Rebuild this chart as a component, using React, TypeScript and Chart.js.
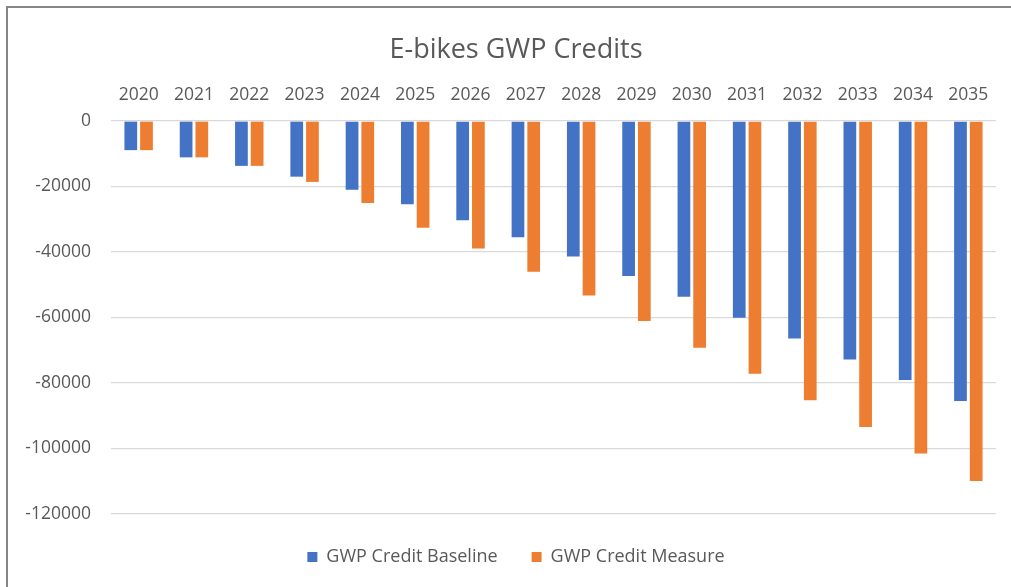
import React, { useEffect, useRef } from "react";
import { Chart, registerables } from "chart.js";

Chart.register(...registerables);

const years = ["2020","2021","2022","2023","2024","2025","2026","2027","2028","2029","2030","2031","2032","2033","2034","2035"];
const baseline = [-8900,-11100,-13700,-17000,-21000,-25400,-30300,-35500,-41400,-47300,-53700,-60100,-66400,-72800,-79100,-85500];
const measure = [-8900,-11100,-13700,-18600,-25000,-32600,-38900,-46000,-53300,-61100,-69200,-77200,-85300,-93400,-101500,-109900];
const yTicks = [0,-20000,-40000,-60000,-80000,-100000,-120000];

const FONT = "'Open Sans', 'Noto Sans', sans-serif";
const TXT = "#595959";

export default function App() {
  const ref = useRef<HTMLCanvasElement | null>(null);
  useEffect(() => {
    if (!ref.current) return;
    const chart = new Chart(ref.current, {
      type: "bar",
      data: {
        labels: years,
        datasets: [
          { label: "GWP Credit Baseline", data: baseline, backgroundColor: "#4472C4", categoryPercentage: 0.568, barPercentage: 0.81 },
          { label: "GWP Credit Measure", data: measure, backgroundColor: "#ED7D31", categoryPercentage: 0.568, barPercentage: 0.81 },
        ],
      },
      options: {
        animation: false,
        responsive: false,
        maintainAspectRatio: false,
        layout: { padding: { left: 13, right: 0, top: 0, bottom: 11 } },
        plugins: {
          title: {
            display: true,
            text: "E-bikes GWP Credits",
            color: TXT,
            font: { family: FONT, size: 27, weight: "normal" },
            padding: { top: 26, bottom: 3.6 },
          },
          legend: {
            position: "bottom",
            labels: {
              boxWidth: 10,
              boxHeight: 10,
              color: TXT,
              font: { family: FONT, size: 18 },
              padding: 34,
            },
          },
          tooltip: { enabled: false },
        },
        scales: {
          x: {
            position: "top",
            grid: { display: false, drawTicks: false },
            border: { display: false },
            ticks: { color: TXT, font: { family: FONT, size: 17.5 }, padding: 15 },
            afterFit: (s: any) => { s.height = 51; },
          },
          y: {
            min: -120000,
            max: 0,
            afterBuildTicks: (s: any) => { s.ticks = yTicks.map((v) => ({ value: v })); },
            ticks: { color: TXT, font: { family: FONT, size: 17.5 }, padding: 20, callback: (v: any) => String(v) },
            grid: { color: "#D9D9D9", lineWidth: 1.3, drawTicks: false },
            border: { display: false },
            afterFit: (s: any) => { s.width = 90; },
          },
          yRight: {
            position: "right",
            min: -120000,
            max: 0,
            ticks: { display: false },
            grid: { display: false, drawTicks: false },
            border: { display: false },
            afterFit: (s: any) => { s.width = 15; },
          },
        },
      },
    });
    return () => chart.destroy();
  }, []);
  return (
    <div style={{ position: "absolute", left: 0, top: 0, width: 1011, height: 587, background: "#fff", overflow: "hidden" }}>
      <div style={{ position: "absolute", left: 6, top: 6, right: -10, bottom: -10, borderLeft: "2px solid #858585", borderTop: "2px solid #858585" }} />
      <canvas ref={ref} width={1003} height={579} style={{ position: "absolute", left: 8, top: 8, width: 1003, height: 579 }} />
    </div>
  );
}
